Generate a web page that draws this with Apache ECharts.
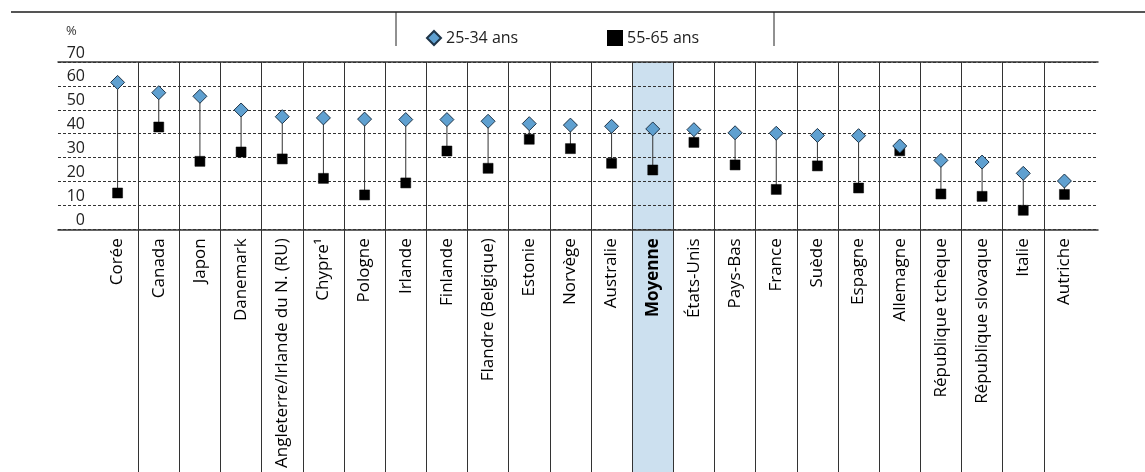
<!DOCTYPE html>
<html><head><meta charset="utf-8">
<script src="https://cdn.jsdelivr.net/npm/echarts@6/dist/echarts.min.js"></script>
<style>html,body{margin:0;padding:0;background:#fff}#c{width:1145px;height:472px}</style>
</head><body><div id="c"></div>
<script>
const categories = ['Corée','Canada','Japon','Danemark','Angleterre/Irlande du N. (RU)','Chypre¹','Pologne','Irlande','Finlande','Flandre (Belgique)','Estonie','Norvège','Australie','Moyenne','États-Unis','Pays-Bas','France','Suède','Espagne','Allemagne','République tchèque','République slovaque','Italie','Autriche'];
const young = [61.5,57.2,55.7,50.0,47.2,46.7,46.2,46.0,46.0,45.3,44.3,43.7,43.2,42.1,41.8,40.5,40.3,39.4,39.3,35.0,29.0,28.3,23.6,20.4];
const old = [15.4,42.9,28.6,32.5,29.6,21.5,14.6,19.6,32.9,25.7,37.8,33.9,27.8,25.0,36.5,27.1,16.9,26.7,17.5,33.0,15.0,14.0,8.2,14.8];
const yTicks = [0,10,20,30,40,50,60,70];
const highlight = 'Moyenne';

const FONT = 'Open Sans';
const chart = echarts.init(document.getElementById('c'), null, {renderer:'canvas'});
const option = {
  animation:false,
  textStyle:{fontFamily:FONT},
  graphic:[
    {type:'line', shape:{x1:11,y1:12,x2:1145,y2:12}, style:{stroke:'#555',lineWidth:2}},
    {type:'line', shape:{x1:396,y1:12,x2:396,y2:46}, style:{stroke:'#222',lineWidth:1}},
    {type:'line', shape:{x1:774,y1:12,x2:774,y2:46}, style:{stroke:'#222',lineWidth:1}}
  ],
  legend:[
    {data:['25-34 ans'], left:421, top:25, itemWidth:14, itemHeight:14, itemGap:5,
     textStyle:{fontFamily:FONT,fontSize:16,color:'#222'}},
    {data:['55-65 ans'], left:602, top:25, itemWidth:14, itemHeight:14, itemGap:5,
     textStyle:{fontFamily:FONT,fontSize:16,color:'#222'}}
  ],
  grid:[
    {left:58, right:47, top:62, height:167.3, outerBoundsMode:'none', containLabel:false},
    {left:97, width:988, top:62, height:410.3, outerBoundsMode:'none', containLabel:false}
  ],
  xAxis:[
    {gridIndex:0, type:'value', min:0, max:1, position:'bottom', axisLine:{show:true,onZero:false,lineStyle:{color:'#333',width:1.5}}, axisTick:{show:false}, axisLabel:{show:false}, splitLine:{show:false}},
    {gridIndex:0, type:'value', min:0, max:1, position:'top', axisLine:{show:true,onZero:false,lineStyle:{color:'#333',width:1.5}}, axisTick:{show:false}, axisLabel:{show:false}, splitLine:{show:false}},
    {gridIndex:1, type:'category', data:categories, boundaryGap:true, position:'bottom', offset:-243,
     axisLine:{show:false,onZero:false}, axisTick:{show:false},
     axisLabel:{rotate:90, interval:0, margin:9, fontFamily:FONT, fontSize:17, fontWeight:500, color:'#000',
       formatter:v=> v===highlight ? '{b|'+v+'}' : v,
       rich:{b:{fontWeight:'bold',fontFamily:FONT,fontSize:17,color:'#000'}}},
     splitLine:{show:true, showMinLine:false, showMaxLine:false, interval:0, lineStyle:{color:'#333',width:1}}}
  ],
  yAxis:[
    {gridIndex:0, type:'value', min:0, max:70, interval:10,
     name:'%', nameLocation:'end', nameGap:24,
     nameTextStyle:{align:'left', padding:[0,0,0,8], fontFamily:FONT, fontSize:13, color:'#333'},
     axisLine:{show:false}, axisTick:{show:false},
     axisLabel:{inside:true, align:'right', margin:27, verticalAlign:'bottom', padding:[0,0,1,0], fontFamily:FONT, fontSize:16, color:'#222',
       formatter:v=> yTicks.includes(v) ? String(v) : ''},
     splitLine:{show:true, lineStyle:{type:[3,2], color:'#333', width:1}}},
    {gridIndex:1, type:'value', min:-101, max:70, show:false, splitLine:{show:false}}
  ],
  series:[
    {type:'custom', name:'bg', xAxisIndex:2, yAxisIndex:1, z:-1, silent:true,
     data:[[categories.indexOf(highlight)]],
     renderItem:(params, api)=>{
       const cs = params.coordSys;
       const c = api.coord([api.value(0), 0]);
       const w = api.size([1,0])[0];
       return {type:'rect', shape:{x:c[0]-w/2, y:cs.y, width:w, height:cs.height}, style:{fill:'#cce0ef'}};
     }},
    {type:'custom', name:'stems', xAxisIndex:2, yAxisIndex:1, z:3, silent:true,
     data:categories.map((c,i)=>[i, young[i], old[i]]),
     renderItem:(params, api)=>{
       const a = api.coord([api.value(0), api.value(1)]);
       const b = api.coord([api.value(0), api.value(2)]);
       return {type:'line', shape:{x1:a[0],y1:a[1],x2:b[0],y2:b[1]}, style:{stroke:'#333',lineWidth:1}};
     }},
    {type:'scatter', name:'55-65 ans', xAxisIndex:2, yAxisIndex:1, z:4,
     data:old, symbol:'rect', symbolSize:10,
     itemStyle:{color:'#000', borderColor:'#000', borderWidth:0.5, opacity:1}},
    {type:'scatter', name:'25-34 ans', xAxisIndex:2, yAxisIndex:1, z:5,
     data:young, symbol:'diamond', symbolSize:14,
     itemStyle:{color:'#5fa0d0', borderColor:'#1e3448', borderWidth:1, opacity:1}}
  ]
};
chart.setOption(option);
</script></body></html>
